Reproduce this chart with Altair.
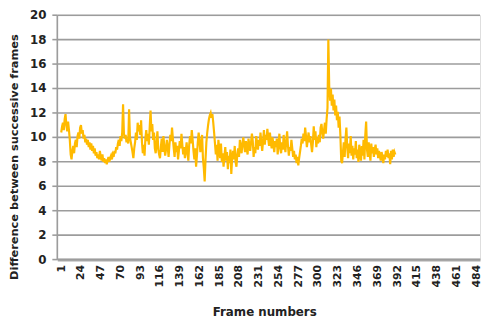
import altair as alt
import pandas as pd

frames_start = 1
values = [
    10.4, 10.9, 11.2, 10.6, 11.5, 11.9, 11.0, 10.5, 11.3, 10.6, 9.8, 8.6, 8.2, 8.9, 9.3, 8.7, 9.5, 9.8, 9.2, 10.1,
    10.4, 9.9, 10.8, 11.0, 10.3, 10.6, 9.9, 10.2, 9.6, 9.9, 9.4, 9.8, 9.2, 9.6, 9.0, 9.5, 8.9, 9.3, 8.7, 9.1,
    8.5, 8.8, 8.3, 8.6, 8.2, 8.9, 8.4, 8.1, 8.6, 8.0, 8.3, 7.9, 8.2, 7.8, 8.1, 8.4, 8.0, 8.3, 8.5, 8.2,
    8.6, 8.4, 8.9, 8.7, 9.2, 9.0, 9.5, 9.8, 9.3, 10.1, 9.7, 10.4, 12.7, 10.3, 9.9, 10.2, 9.6, 9.9, 9.5, 12.3,
    10.0, 9.6, 9.2, 8.8, 8.3, 9.1, 9.6, 10.4, 9.8, 11.2, 10.5, 11.0, 10.2, 11.4, 9.6, 8.7, 9.4, 8.5, 9.9, 10.6,
    9.7, 10.3, 9.4, 10.8, 12.2, 10.5, 11.1, 9.8, 10.4, 9.1, 8.7, 9.6, 10.5, 9.0, 8.6, 8.3, 9.2, 9.9, 8.8, 10.1,
    9.3, 8.5, 9.0, 9.8, 9.2, 8.4, 9.4, 10.2, 9.7, 10.8, 9.9, 9.1, 8.4, 9.6, 8.8, 9.3, 8.2, 8.9, 9.7, 9.1,
    10.3, 9.4, 8.6, 9.2, 8.3, 8.9, 9.6, 8.7, 8.1, 9.4, 10.1, 9.5, 10.6, 9.8, 8.9, 8.2, 9.1, 7.6, 8.5, 9.6,
    10.4, 9.7, 8.8, 9.5, 10.2, 8.3, 7.5, 6.4, 8.2, 9.6, 10.4, 11.0, 11.5, 11.8, 12.0, 11.6, 11.9, 11.2, 10.4, 9.5,
    8.6, 9.4, 8.1, 9.8, 9.0, 8.3, 9.5, 8.0, 8.7, 7.6, 8.4, 9.2, 8.1, 8.8, 7.4, 8.5, 7.9, 9.0, 7.0, 8.3,
    8.9, 8.2, 9.3, 8.0, 7.6, 8.6, 9.1, 8.4, 9.8, 9.2, 8.7, 9.5, 10.0, 9.3, 8.8, 9.7, 9.1, 8.6, 9.9, 9.4,
    8.9, 9.6, 10.3, 9.7, 8.4, 9.2, 8.7, 10.1, 9.5, 9.0, 9.8, 9.3, 10.4, 9.6, 8.9, 9.7, 10.6, 9.4, 10.2, 9.8,
    10.7, 9.9, 9.3, 10.4, 9.6, 9.1, 10.0, 9.4, 8.8, 9.7, 9.2, 9.9, 8.6, 9.5, 10.3, 9.1, 8.7, 9.6, 9.0, 10.2,
    9.4, 8.8, 9.7, 10.5, 9.3, 8.5, 9.2, 8.9, 9.8, 9.1, 8.4, 8.9, 8.2, 8.6, 7.9, 8.4, 7.7, 8.3, 8.8, 9.3,
    9.9, 9.5, 10.3, 9.7, 10.8, 10.1, 9.2, 9.8, 10.4, 9.6, 10.1, 9.4, 8.8, 9.6, 10.9, 9.8, 10.5, 9.2, 10.0, 9.5,
    10.2, 9.6, 10.8, 11.1, 10.4, 9.9, 10.6, 11.2, 10.3, 11.5, 12.4, 18.0, 14.2, 13.0, 14.0, 12.6, 13.5, 12.2, 13.1, 11.8,
    12.6, 11.4, 12.1, 10.8, 11.7, 10.2, 8.1, 7.9, 8.8, 9.6, 8.4, 9.9, 10.8, 9.2, 8.3, 9.5, 8.7, 10.1, 8.5, 9.3,
    8.2, 9.1, 8.6, 9.7, 8.3, 9.0, 8.0, 9.4, 8.7, 8.1, 9.3, 8.5, 9.8, 8.2, 10.2, 11.3, 9.0, 8.4, 9.6, 8.8,
    8.1, 9.5, 8.7, 9.2, 8.4, 9.0, 9.4, 8.6, 9.1, 8.3, 8.9, 8.5, 8.1, 8.8, 8.4, 7.9, 8.6, 8.2, 8.9, 8.4,
    9.0, 8.3, 8.7, 7.8, 8.9, 8.2, 9.0, 8.4, 8.8, 8.6,
]
x_ticks = [1, 24, 47, 70, 93, 116, 139, 162, 185, 208, 231, 254, 277, 300, 323, 346, 369, 392, 415, 438, 461, 484]
y_ticks = [0, 2, 4, 6, 8, 10, 12, 14, 16, 18, 20]
y_title = "Difference between successive frames"

df = pd.DataFrame({"frame": list(range(frames_start, frames_start + len(values))), "diff": values})
ydf = pd.DataFrame({"gy": y_ticks, "label": [str(v) for v in y_ticks]})
tdf = pd.DataFrame({"t": [y_title]})

FONT = "DejaVu Sans"
W, H = 429, 248
GRID = "#9c9c9c"

y_scale = alt.Scale(domain=[0, 20], nice=False)

grid = (
    alt.Chart(ydf)
    .mark_rule(color=GRID, strokeWidth=1.6)
    .encode(y=alt.Y("gy:Q", scale=y_scale, axis=None))
)

ticks = (
    alt.Chart(ydf)
    .mark_rule(color=GRID, strokeWidth=1.6)
    .encode(
        y=alt.Y("gy:Q", scale=y_scale, axis=None),
        x=alt.value(-5),
        x2=alt.value(0),
    )
)

ydomain = (
    alt.Chart(tdf)
    .mark_rule(color=GRID, strokeWidth=1.6)
    .encode(x=alt.value(0))
)

ylabels = (
    alt.Chart(ydf)
    .mark_text(font=FONT, fontWeight="bold", fontSize=12, color="#222222", align="right", baseline="middle")
    .encode(
        y=alt.Y("gy:Q", scale=y_scale, axis=None),
        x=alt.value(-11),
        text="label:N",
    )
)

ytitle = (
    alt.Chart(tdf)
    .mark_text(font=FONT, fontWeight="bold", fontSize=11.5, color="#222222", align="center",
               baseline="middle", angle=270)
    .encode(x=alt.value(-43), y=alt.value(144), text="t:N")
)

line = (
    alt.Chart(df)
    .mark_line(color="#FFBA00", strokeWidth=2.2)
    .encode(
        x=alt.X(
            "frame:Q",
            scale=alt.Scale(domain=[-3.6, 488.6], nice=False, zero=False),
            axis=alt.Axis(
                values=x_ticks,
                labelAngle=-90,
                labelFont=FONT,
                labelFontWeight="bold",
                labelFontSize=11,
                labelColor="#222222",
                labelPadding=5,
                grid=False,
                domainColor="#aaaaaa",
                domainWidth=3,
                ticks=False,
                title="Frame numbers",
                titleFont=FONT,
                titleFontWeight="bold",
                titleFontSize=12,
                titleColor="#222222",
                titleX=210,
                titleY=53,
                titleBaseline="middle",
                labelOverlap=False,
            ),
        ),
        y=alt.Y("diff:Q", scale=y_scale, axis=None),
    )
)

chart = (
    alt.layer(grid, ticks, ydomain, ylabels, ytitle, line)
    .properties(
        width=W,
        height=H,
        autosize=alt.AutoSizeParams(type="none"),
        padding={"left": 50, "top": 5, "right": 2, "bottom": 58},
    )
    .configure_view(stroke=None)
    .configure(background="white")
)

chart.save("out.html", embed_options={"renderer": "svg", "actions": False})
